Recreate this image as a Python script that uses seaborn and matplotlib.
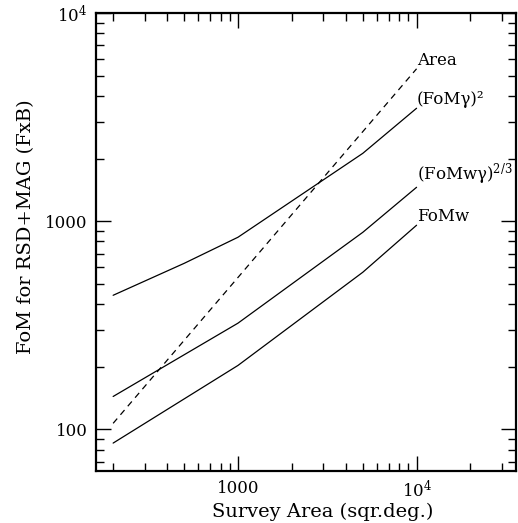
import numpy as np
import pandas as pd
import matplotlib
matplotlib.use("Agg")
import matplotlib.pyplot as plt
import matplotlib.ticker as mticker
import seaborn as sns

# values (survey area in sqr.deg.)
area_x = [200, 10000]
area_fom = [107, 5400]

x4 = [200, 1000, 5000, 10000]
fomw = [86, 203, 569, 957]
fomwg23 = [144, 324, 885, 1456]

x5 = [200, 500, 1000, 5000, 10000]
fomg2 = [441, 628, 838, 2120, 3490]

labels = ["Area", "(FoMγ)²", "(FoMwγ)$^{2/3}$", "FoMw"]

sns.set_theme(style="ticks")
plt.rcParams['font.family'] = ['DejaVu Serif']
plt.rcParams['mathtext.fontset'] = 'dejavuserif'
for k in ['text.color', 'axes.labelcolor', 'xtick.color', 'ytick.color']:
    plt.rcParams[k] = 'black'

fig = plt.figure(figsize=(5.18, 5.23), dpi=100)
ax = fig.add_axes([0.185, 0.099, 0.811, 0.876])

sns.lineplot(x=area_x, y=area_fom, ax=ax, color="black", lw=0.9,
             dashes=False, linestyle=(0, (5, 4)))
sns.lineplot(x=x5, y=fomg2, ax=ax, color="black", lw=0.9)
sns.lineplot(x=x4, y=fomwg23, ax=ax, color="black", lw=0.9)
sns.lineplot(x=x4, y=fomw, ax=ax, color="black", lw=0.9)

ax.set_xscale("log")
ax.set_yscale("log")
ax.set_xlim(160, 36000)
ax.set_ylim(63, 10000)

# curve labels at line ends
ends = [(area_x[-1], area_fom[-1]), (x5[-1], fomg2[-1]),
        (x4[-1], fomwg23[-1]), (x4[-1], fomw[-1])]
for lab, (xe, ye) in zip(labels, ends):
    ax.text(xe * 1.005, ye * 1.0, lab, ha="left", va="bottom",
            fontsize=12, color="black")

def fmt(v, pos):
    if v >= 9999:
        return r"$10^{%d}$" % int(round(np.log10(v)))
    return "%d" % v

ax.xaxis.set_major_locator(mticker.FixedLocator([1000, 10000]))
ax.yaxis.set_major_locator(mticker.FixedLocator([100, 1000, 10000]))
ax.xaxis.set_major_formatter(mticker.FuncFormatter(fmt))
ax.yaxis.set_major_formatter(mticker.FuncFormatter(fmt))
ax.xaxis.set_minor_locator(mticker.LogLocator(subs=np.arange(2, 10)))
ax.yaxis.set_minor_locator(mticker.LogLocator(subs=np.arange(2, 10)))
ax.xaxis.set_minor_formatter(mticker.NullFormatter())
ax.yaxis.set_minor_formatter(mticker.NullFormatter())

ax.tick_params(which="both", direction="in", top=True, right=True,
               color="black", width=1)
ax.tick_params(which="major", length=11, labelsize=12, pad=6)
ax.tick_params(which="minor", length=6)
for s in ax.spines.values():
    s.set_visible(True)
    s.set_linewidth(1.6)
    s.set_color("black")

ax.set_xlabel("Survey Area (sqr.deg.)", fontsize=14)
ax.set_ylabel("FoM for RSD+MAG (FxB)", fontsize=14)
ax.xaxis.set_label_coords(0.54, -0.068)
ax.yaxis.set_label_coords(-0.145, 0.533)

fig.savefig("out.png", dpi=100)
